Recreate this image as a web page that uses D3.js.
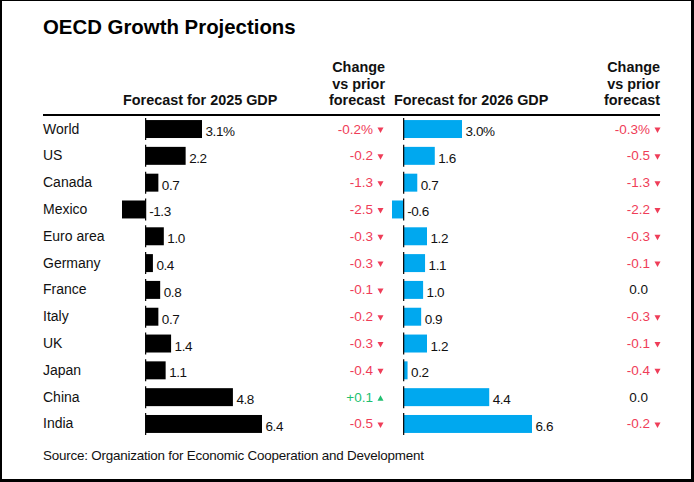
<!DOCTYPE html>
<html><head><meta charset="utf-8">
<script src="https://cdn.jsdelivr.net/npm/d3@7"></script>
<style>
html,body{margin:0;padding:0;background:#fff;}
svg{display:block;}
text{font-family:"Liberation Sans",Arial,sans-serif;}
</style></head>
<body>
<script>
const countries = ["World","US","Canada","Mexico","Euro area","Germany","France","Italy","UK","Japan","China","India"];
const gdp2025 = [3.1,2.2,0.7,-1.3,1.0,0.4,0.8,0.7,1.4,1.1,4.8,6.4];
const chg2025 = [-0.2,-0.2,-1.3,-2.5,-0.3,-0.3,-0.1,-0.2,-0.3,-0.4,0.1,-0.5];
const gdp2026 = [3.0,1.6,0.7,-0.6,1.2,1.1,1.0,0.9,1.2,0.2,4.4,6.6];
const chg2026 = [-0.3,-0.5,-1.3,-2.2,-0.3,-0.1,0.0,-0.3,-0.1,-0.4,0.0,-0.2];
const title = "OECD Growth Projections";
const source = "Source: Organization for Economic Cooperation and Development";

const W = 694, H = 482;
const RED = "#ef3d58", GREEN = "#20bf70", BLUE = "#00a8ef";

const svg = d3.select("body").append("svg").attr("width", W).attr("height", H);
svg.append("rect").attr("width", W).attr("height", H).attr("fill", "#fff");

// frame
svg.append("rect").attr("x",0).attr("y",0).attr("width",2).attr("height",H).attr("fill","#000");
svg.append("rect").attr("x",0).attr("y",0).attr("width",W).attr("height",1).attr("fill","#000");
svg.append("rect").attr("x",W-3).attr("y",0).attr("width",3).attr("height",H).attr("fill","#000");
svg.append("rect").attr("x",0).attr("y",H-3).attr("width",W).attr("height",3).attr("fill","#000");

svg.append("text").attr("x",43).attr("y",34).attr("font-size",20.4).attr("font-weight",700)
  .attr("fill","#000").text(title);

const y = d3.scaleBand().domain(countries).range([115.5, 437.5]).paddingInner(0.33).paddingOuter(0.17);
const yc = c => y(c) + y.bandwidth()/2;

const x25 = d3.scaleLinear().domain(d3.extent(gdp2025)).range([122, 262]);
const x26 = d3.scaleLinear().domain(d3.extent(gdp2026)).range([392, 532]);

const f1 = v => (v < 0 ? "-" : "") + Math.abs(v).toFixed(1);

// headers
const hdr = svg.append("g").attr("font-size",14.4).attr("font-weight",700).attr("fill","#111");
hdr.append("text").attr("x",x25.range()[0]+1).attr("y",105).text("Forecast for 2025 GDP");
hdr.append("text").attr("x",x26.range()[0]+2).attr("y",105).text("Forecast for 2026 GDP");
[385, 660].forEach(xr => {
  ["Change","vs prior","forecast"].forEach((t,i) => {
    hdr.append("text").attr("x",xr).attr("y",72+i*16.5).attr("text-anchor","end").text(t);
  });
});
svg.append("rect").attr("x",43).attr("y",114).attr("width",617).attr("height",2).attr("fill","#000");

// country labels
svg.append("g").selectAll("text").data(countries).join("text")
  .attr("x",43).attr("y",c => yc(c)+4.5).attr("font-size",14).attr("fill","#111").text(c => c);

function panel(vals, chg, x, color, chgRight, pct) {
  const g = svg.append("g");
  const bh = y.bandwidth();
  g.selectAll("rect.bar").data(vals).join("rect").attr("class","bar")
    .attr("x", v => x(Math.min(0,v))).attr("width", v => Math.abs(x(v)-x(0)))
    .attr("y", (v,i) => y(countries[i])).attr("height", bh).attr("fill", color);
  g.selectAll("line.zero").data(vals).join("line").attr("class","zero")
    .attr("x1", x(0)).attr("x2", x(0))
    .attr("y1", (v,i) => y(countries[i]) - 2).attr("y2", (v,i) => y(countries[i]) + bh + 2)
    .attr("stroke","#000").attr("stroke-width",1.2);
  g.selectAll("text.val").data(vals).join("text").attr("class","val")
    .attr("x", v => (v >= 0 ? x(v) : x(0)) + 3.5)
    .attr("y", (v,i) => yc(countries[i]) + 7)
    .attr("font-size",13.5).attr("fill","#111").attr("letter-spacing",-0.4)
    .text((v,i) => f1(v) + (i===0 && pct ? "%" : ""));
  const fmtC = (v,i) => (v > 0 ? "+" : "") + f1(v) + (i===0 ? "%" : "");
  g.selectAll("text.chg").data(chg).join("text").attr("class","chg")
    .attr("x", v => v === 0 ? chgRight - 2 : chgRight)
    .attr("y", (v,i) => yc(countries[i]) + 4.5)
    .attr("text-anchor","end").attr("font-size",13.5)
    .attr("fill", v => v < 0 ? RED : v > 0 ? GREEN : "#111")
    .text(fmtC);
  g.selectAll("path.tri").data(chg.map((v,i)=>({v,i})).filter(d => d.v !== 0)).join("path").attr("class","tri")
    .attr("transform", d => `translate(${chgRight+7.5},${yc(countries[d.i]) + 1})`)
    .attr("d", d => d.v < 0 ? "M-3,-2.5L3,-2.5L0,3Z" : "M-3,2.5L3,2.5L0,-3Z")
    .attr("fill", d => d.v < 0 ? RED : GREEN);
}
panel(gdp2025, chg2025, x25, "#000", 373, true);
panel(gdp2026, chg2026, x26, BLUE, 650, true);

svg.append("text").attr("x",43).attr("y",460).attr("font-size",13.4).attr("fill","#111")
  .attr("letter-spacing",-0.2).text(source);
</script>
</body></html>
